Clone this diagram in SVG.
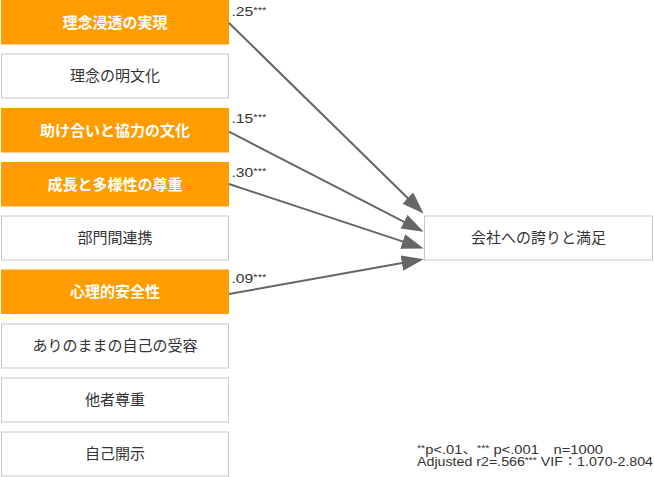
<svg xmlns="http://www.w3.org/2000/svg" width="654" height="477" viewBox="0 0 654 477">
<defs>
<style>
.o{fill:#ff9c00}
.w{fill:#fff;stroke:#c8c8c8;stroke-width:1}
.t{font-family:"Noto Sans CJK JP","Noto Sans",sans-serif;font-size:15px;text-anchor:middle;fill:#333}
.tb{font-family:"Noto Sans CJK JP","Noto Sans",sans-serif;font-size:15px;text-anchor:middle;fill:#fff;font-weight:bold}
.l{font-family:"Liberation Sans","Noto Sans CJK JP",sans-serif;font-size:12.5px;fill:#333}
.s{font-size:9px}
.c{stroke:#666;stroke-width:2;fill:none}
</style>
<marker id="ah" markerUnits="userSpaceOnUse" markerWidth="22" markerHeight="16" viewBox="0 0 20 14" refX="17" refY="7" orient="auto">
<path d="M0,0 L20,7 L0,14 z" fill="#666"/>
</marker>
</defs>
<rect width="654" height="477" fill="#fff"/>
<g id="n1"><rect class="o" x="1" y="0" width="228" height="44.5"/><text class="tb" x="115" y="27.5">理念浸透の実現</text></g>
<g id="n2"><rect class="w" x="1.5" y="54" width="227" height="44"/><text class="t" x="115" y="81">理念の明文化</text></g>
<g id="n3"><rect class="o" x="1" y="108" width="228" height="44.5"/><text class="tb" x="115" y="135.5">助け合いと協力の文化</text></g>
<g id="n4"><rect class="o" x="1" y="162" width="228" height="44.5"/><text class="tb" x="115" y="189.5">成長と多様性の尊重</text></g>
<g id="n5"><rect class="w" x="1.5" y="216" width="227" height="44"/><text class="t" x="115" y="243">部門間連携</text></g>
<g id="n6"><rect class="o" x="1" y="269.5" width="228" height="44.5"/><text class="tb" x="115" y="297">心理的安全性</text></g>
<g id="n7"><rect class="w" x="1.5" y="324" width="227" height="44"/><text class="t" x="115" y="351">ありのままの自己の受容</text></g>
<g id="n8"><rect class="w" x="1.5" y="378" width="227" height="44"/><text class="t" x="115" y="405">他者尊重</text></g>
<g id="n9"><rect class="w" x="1.5" y="432" width="227" height="44"/><text class="t" x="115" y="459">自己開示</text></g>
<g id="target"><rect class="w" x="424.5" y="216" width="228" height="44"/><text class="t" x="538.5" y="243">会社への誇りと満足</text></g>
<g id="connectors">
<line class="c" x1="229" y1="23" x2="421.2" y2="211.2" marker-end="url(#ah)"/>
<line class="c" x1="229" y1="131.7" x2="420.6" y2="230.3" marker-end="url(#ah)"/>
<line class="c" x1="229" y1="184" x2="420.5" y2="247.4" marker-end="url(#ah)"/>
<line class="c" x1="229" y1="294" x2="420.3" y2="259.8" marker-end="url(#ah)"/>
</g>
<g id="labels">
<text class="l" x="231.5" y="16" textLength="35" lengthAdjust="spacingAndGlyphs">.25<tspan class="s" dy="-3">***</tspan></text>
<text class="l" x="231.5" y="123" textLength="35" lengthAdjust="spacingAndGlyphs">.15<tspan class="s" dy="-3">***</tspan></text>
<text class="l" x="231.5" y="177" textLength="35" lengthAdjust="spacingAndGlyphs">.30<tspan class="s" dy="-3">***</tspan></text>
<text class="l" x="231.5" y="283" textLength="35" lengthAdjust="spacingAndGlyphs">.09<tspan class="s" dy="-3">***</tspan></text>
</g>
<g id="note">
<text class="l" x="417" y="454" textLength="186" lengthAdjust="spacingAndGlyphs"><tspan class="s" dy="-3">**</tspan><tspan dy="3">p&lt;.01、</tspan><tspan class="s" dy="-3">***</tspan><tspan dy="3"> p&lt;.001　n=1000</tspan></text>
<text class="l" x="417" y="466" textLength="236" lengthAdjust="spacingAndGlyphs">Adjusted r2=.566<tspan class="s" dy="-3">***</tspan><tspan dy="3"> VIF：1.070-2.804</tspan></text>
</g>
</svg>
